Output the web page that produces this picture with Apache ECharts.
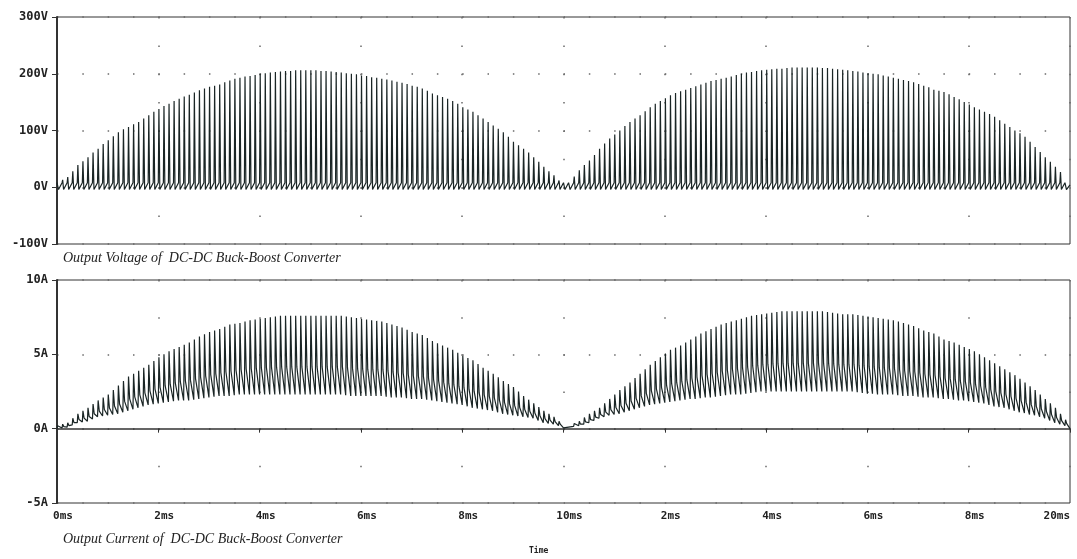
<!DOCTYPE html>
<html>
<head>
<meta charset="utf-8">
<script src="https://cdn.jsdelivr.net/npm/echarts@6/dist/echarts.min.js"></script>
<style>
html,body{margin:0;padding:0;background:#fff;}
#c{width:1077px;height:559px;}
</style>
</head>
<body>
<div id="c"></div>
<script>
// ---- data ----
const periodMs = 0.1; // one switching period per spike
const xTickLabels = ['0ms','2ms','4ms','6ms','8ms','10ms','2ms','4ms','6ms','8ms','20ms'];
const voltTitle = 'Output Voltage of  DC-DC Buck-Boost Converter';
const currTitle = 'Output Current of  DC-DC Buck-Boost Converter';

// Voltage spike peaks (V), 0-10 ms
const voltPeaksA = [6,13,18,28,39,46,53,61,68,76,83,90,97,102,106,111,115,121,127,133,
  138,143,147,152,156,160,163,167,171,174,177,179,181,185,188,191,193,195,196,198,
  200,201,202,203,204,205,205,206,206,206,206,206,205,205,204,203,202,201,200,199,
  197,196,194,193,191,190,188,186,184,182,179,177,174,170,165,162,159,156,152,147,
  141,137,133,127,121,115,109,103,97,89,80,74,68,61,53,45,36,28,21,12];
// Voltage spike peaks (V), 10-20 ms
const voltPeaksB = [3,8,19,30,39,47,57,68,77,86,93,100,108,115,121,127,134,141,147,152,
  157,162,166,169,172,175,178,181,184,187,189,191,193,195,198,200,202,203,205,206,
  207,208,209,209,210,211,211,211,211,211,211,210,210,209,208,207,206,205,204,202,
  201,200,199,197,195,193,191,189,187,185,182,179,176,172,170,168,164,159,155,150,
  146,141,137,133,129,124,118,112,106,100,95,89,80,71,62,53,45,36,27,10];

// Current upper / lower values per period (A), 0-10 ms
const currHighA = [0.2,0.3,0.4,0.7,1.0,1.2,1.4,1.65,1.9,2.1,2.3,2.6,2.9,3.2,3.5,3.7,3.9,4.1,4.3,4.55,
  4.8,5.0,5.2,5.35,5.5,5.65,5.8,6.0,6.2,6.35,6.5,6.6,6.7,6.85,7.0,7.05,7.1,7.2,7.3,7.35,
  7.4,7.45,7.5,7.55,7.6,7.6,7.6,7.6,7.6,7.6,7.6,7.6,7.6,7.6,7.6,7.6,7.6,7.55,7.5,7.45,
  7.4,7.35,7.3,7.25,7.2,7.1,7.0,6.9,6.8,6.65,6.5,6.4,6.3,6.1,5.9,5.75,5.6,5.45,5.3,5.1,
  4.9,4.75,4.6,4.35,4.1,3.9,3.7,3.45,3.2,3.0,2.8,2.5,2.2,1.95,1.7,1.45,1.2,1.0,0.8,0.5];
const currLowA = [0,0.05,0.1,0.25,0.4,0.45,0.5,0.65,0.8,0.85,0.9,0.95,1.0,1.1,1.2,1.3,1.4,1.5,1.6,1.65,
  1.7,1.75,1.8,1.85,1.9,1.9,1.9,1.95,2.0,2.05,2.1,2.15,2.2,2.2,2.2,2.25,2.3,2.3,2.3,2.3,
  2.3,2.3,2.3,2.3,2.3,2.3,2.3,2.3,2.3,2.3,2.3,2.3,2.3,2.3,2.3,2.3,2.3,2.25,2.2,2.2,
  2.2,2.2,2.2,2.2,2.2,2.15,2.1,2.1,2.1,2.05,2.0,2.0,2.0,1.95,1.9,1.85,1.8,1.75,1.7,1.65,
  1.6,1.5,1.4,1.35,1.3,1.25,1.2,1.1,1.0,0.95,0.9,0.85,0.8,0.75,0.7,0.55,0.4,0.35,0.3,0.2];
// Current upper / lower values per period (A), 10-20 ms
const currHighB = [0.1,0.2,0.35,0.5,0.75,1.0,1.2,1.4,1.7,2.0,2.3,2.6,2.85,3.1,3.4,3.7,4.0,4.3,4.55,4.8,
  5.05,5.3,5.45,5.6,5.8,6.0,6.2,6.4,6.55,6.7,6.85,7.0,7.1,7.2,7.3,7.4,7.5,7.6,7.65,7.7,
  7.75,7.8,7.85,7.9,7.9,7.9,7.9,7.9,7.9,7.9,7.9,7.9,7.85,7.8,7.75,7.7,7.7,7.7,7.65,7.6,
  7.55,7.5,7.45,7.4,7.35,7.3,7.2,7.1,7.0,6.9,6.75,6.6,6.5,6.4,6.2,6.0,5.9,5.8,5.65,5.5,
  5.35,5.2,5.0,4.8,4.6,4.4,4.2,4.0,3.8,3.6,3.35,3.1,2.85,2.6,2.3,2.0,1.7,1.4,1.0,0.6];
const currLowB = [0.05,0.1,0.15,0.2,0.3,0.4,0.55,0.7,0.8,0.9,0.95,1.0,1.1,1.2,1.3,1.4,1.5,1.6,1.65,1.7,
  1.75,1.8,1.85,1.9,1.95,2.0,2.0,2.05,2.1,2.1,2.15,2.2,2.25,2.3,2.3,2.3,2.35,2.4,2.45,2.5,
  2.5,2.5,2.5,2.5,2.5,2.5,2.5,2.5,2.5,2.5,2.5,2.5,2.5,2.5,2.5,2.5,2.5,2.5,2.45,2.4,
  2.35,2.35,2.3,2.3,2.3,2.3,2.25,2.2,2.2,2.2,2.15,2.1,2.1,2.1,2.05,2.0,2.0,1.95,1.9,1.9,
  1.85,1.8,1.75,1.7,1.6,1.5,1.45,1.4,1.3,1.2,1.1,1.05,0.95,0.9,0.8,0.7,0.55,0.4,0.3,0.2];

// ---- build waveforms (one spike per switching period) ----
function voltageData(peaks){
  const d = [];
  peaks.forEach((p,k)=>{
    const t = k*periodMs;
    d.push([t, 8]); d.push([t+0.012, p]); d.push([t+0.03, -4]);
  });
  d.push([20, 4]);
  return d;
}
function currentData(highs, lows){
  const d = [];
  highs.forEach((h,k)=>{
    const t = k*periodMs, l = lows[k];
    d.push([t, l]); d.push([t+0.012, h]); d.push([t+0.035, l+0.35*(h-l)]);
  });
  d.push([20, 0]);
  return d;
}
const voltData = voltageData(voltPeaksA.concat(voltPeaksB));
const currData = currentData(currHighA.concat(currHighB), currLowA.concat(currLowB));

const ink = '#1a2525';
const dotColor = '#6a6a6a';
const monoFont = '"DejaVu Sans Mono", monospace';
const serifFont = '"Liberation Serif", serif';

const chart = echarts.init(document.getElementById('c'), null, {renderer:'canvas'});
chart.setOption({
  backgroundColor:'#ffffff',
  animation:false,
  title:[
    {text:voltTitle, left:58, top:246, textStyle:{fontFamily:serifFont, fontStyle:'italic', fontWeight:'normal', fontSize:14, color:'#222'}},
    {text:currTitle, left:58, top:527, textStyle:{fontFamily:serifFont, fontStyle:'italic', fontWeight:'normal', fontSize:14, color:'#222'}},
    {text:'Time', left:524, top:542, textStyle:{fontFamily:monoFont, fontWeight:'bold', fontSize:8, color:'#222'}}
  ],
  grid:[
    {left:57, right:7, top:17, height:227, show:true, borderColor:'#333', borderWidth:1, containLabel:false, outerBoundsMode:'none'},
    {left:57, right:7, top:280, height:223, show:true, borderColor:'#333', borderWidth:1, containLabel:false, outerBoundsMode:'none'}
  ],
  xAxis:[
    {gridIndex:0, type:'value', min:0, max:20, interval:2,
     axisLine:{show:false}, axisTick:{show:false}, axisLabel:{show:false},
     splitLine:{show:true, lineStyle:{color:dotColor, width:1.5, type:[1.5,26.875]}}},
    {gridIndex:1, type:'value', min:0, max:20, interval:2,
     axisLine:{show:true, lineStyle:{color:'#333', width:1.5}},
     axisTick:{show:true, length:4, lineStyle:{color:'#333'}},
     axisLabel:{fontFamily:monoFont, fontWeight:'bold', fontSize:11, color:'#222', margin:8,
       align:'center', padding:[0,0,0,12], alignMaxLabel:'right',
       formatter:v=>xTickLabels[Math.round(v/2)]},
     splitLine:{show:true, lineStyle:{color:dotColor, width:1.5, type:[1.5,35.67]}}}
  ],
  yAxis:[
    {gridIndex:0, type:'value', min:-100, max:300, interval:100,
     axisLine:{show:true, lineStyle:{color:'#333', width:2}},
     axisTick:{show:true, length:5, lineStyle:{color:'#333'}},
     axisLabel:{fontFamily:monoFont, fontWeight:'bold', fontSize:12, color:'#222', margin:9, formatter:v=>v+'V'},
     splitLine:{show:true, lineStyle:{color:dotColor, width:1.5, type:[1.5,23.825]}}},
    {gridIndex:1, type:'value', min:-5, max:10, interval:5,
     axisLine:{show:true, lineStyle:{color:'#333', width:2}},
     axisTick:{show:true, length:5, lineStyle:{color:'#333'}},
     axisLabel:{fontFamily:monoFont, fontWeight:'bold', fontSize:12, color:'#222', margin:9, formatter:v=>v+'A'},
     splitLine:{show:true, lineStyle:{color:dotColor, width:1.5, type:[1.5,23.825]}}}
  ],
  series:[
    {type:'line', xAxisIndex:0, yAxisIndex:0, data:voltData, showSymbol:false, symbol:'none',
     lineStyle:{color:ink, width:1.2}, z:3},
    {type:'line', xAxisIndex:1, yAxisIndex:1, data:currData, showSymbol:false, symbol:'none',
     lineStyle:{color:ink, width:1.2}, z:3}
  ]
});
</script>
</body>
</html>
